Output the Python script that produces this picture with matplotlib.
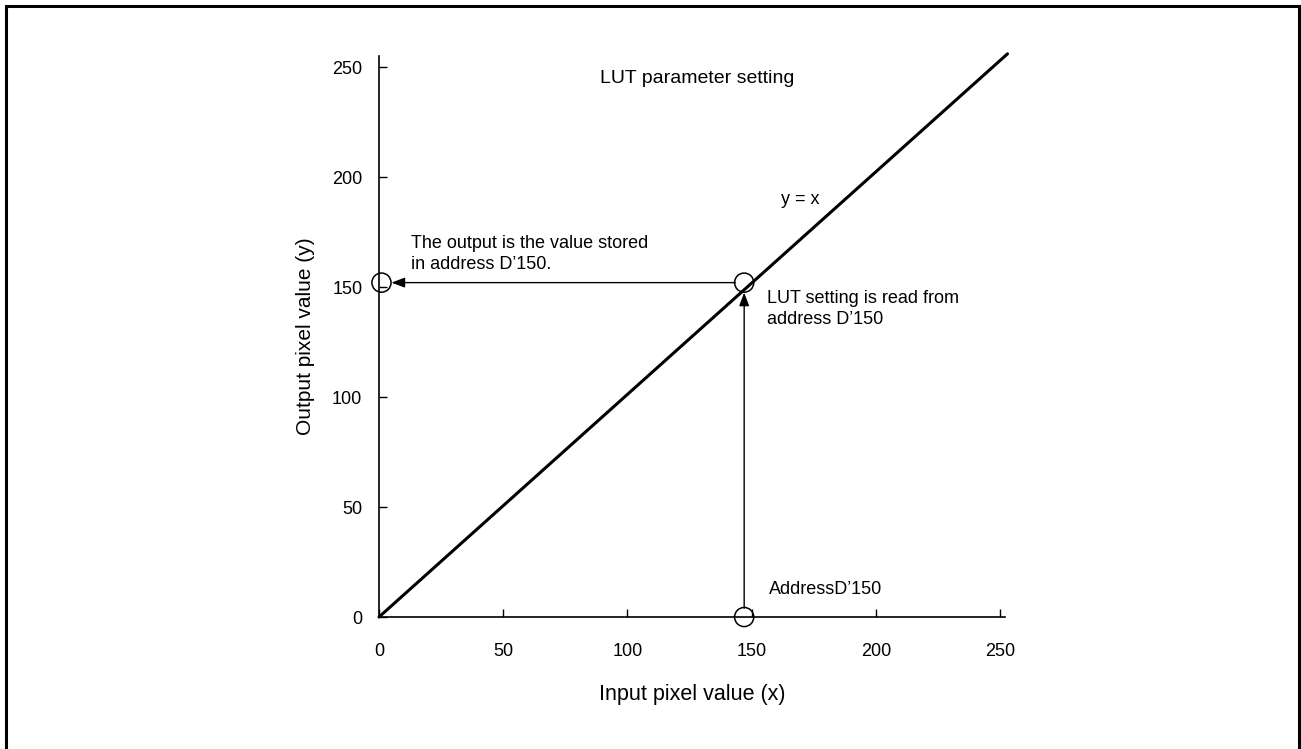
import matplotlib.pyplot as plt
from matplotlib.patches import Rectangle

plt.rcParams['font.family'] = ['Liberation Sans', 'DejaVu Sans']

# data
line_x = [0, 253]
line_y = [0, 256]
ticks = [0, 50, 100, 150, 200, 250]
addr = 147
out_val = 152
circles_x = [addr, addr, 1]
circles_y = [0, out_val, out_val]

fig = plt.figure(figsize=(13.01, 7.49), dpi=100)
ax = fig.add_axes([0.2913, 0.1762, 0.4812, 0.7490])

# outer frame (bottom edge falls off the picture)
fig.patches.append(Rectangle((6 / 1301, -0.05), 1293 / 1301, 1.05 - 6 / 749,
                             transform=fig.transFigure, fill=False,
                             edgecolor='black', linewidth=2.2))

ax.plot(line_x, line_y, color='black', linewidth=2.2, solid_capstyle='round',
        clip_on=False)

# arrows: up from the address, then left to the output axis
ax.annotate('', xy=(addr, out_val - 4.5), xytext=(addr, 4),
            arrowprops=dict(arrowstyle='-|>,head_length=0.8,head_width=0.3',
                            color='black', lw=1.0, shrinkA=0, shrinkB=0))
ax.annotate('', xy=(5, out_val), xytext=(addr - 3.5, out_val),
            arrowprops=dict(arrowstyle='-|>,head_length=0.8,head_width=0.3',
                            color='black', lw=1.0, shrinkA=0, shrinkB=0))

ax.scatter(circles_x, circles_y, s=190, facecolors='none', edgecolors='black',
           linewidths=1.1, clip_on=False, zorder=5)

ax.set_xlim(0, 252)
ax.set_ylim(0, 255)
for side in ['top', 'right']:
    ax.spines[side].set_visible(False)
for side in ['left', 'bottom']:
    ax.spines[side].set_linewidth(1.2)

ax.set_xticks(ticks)
ax.set_yticks(ticks)
ax.tick_params(axis='both', direction='in', length=6, width=1.0, labelsize=13)
ax.tick_params(axis='x', pad=19)
ax.tick_params(axis='y', pad=12)

ax.set_xlabel('Input pixel value (x)', fontsize=15.5, labelpad=17)
ax.set_ylabel('Output pixel value (y)', fontsize=15, labelpad=12)

ax.text(128, 245, 'LUT parameter setting', fontsize=14, ha='center', va='center')
ax.text(162, 190, 'y = x', fontsize=13, ha='left', va='center')
ax.text(13, 165, "The output is the value stored\nin address D\u2019150.", fontsize=13,
        ha='left', va='center', linespacing=1.25)
ax.text(156, 140, "LUT setting is read from\naddress D\u2019150", fontsize=13,
        ha='left', va='center', linespacing=1.25)
ax.text(157, 12.5, "AddressD\u2019150", fontsize=13, ha='left', va='center')

fig.savefig('out.png', dpi=100)
